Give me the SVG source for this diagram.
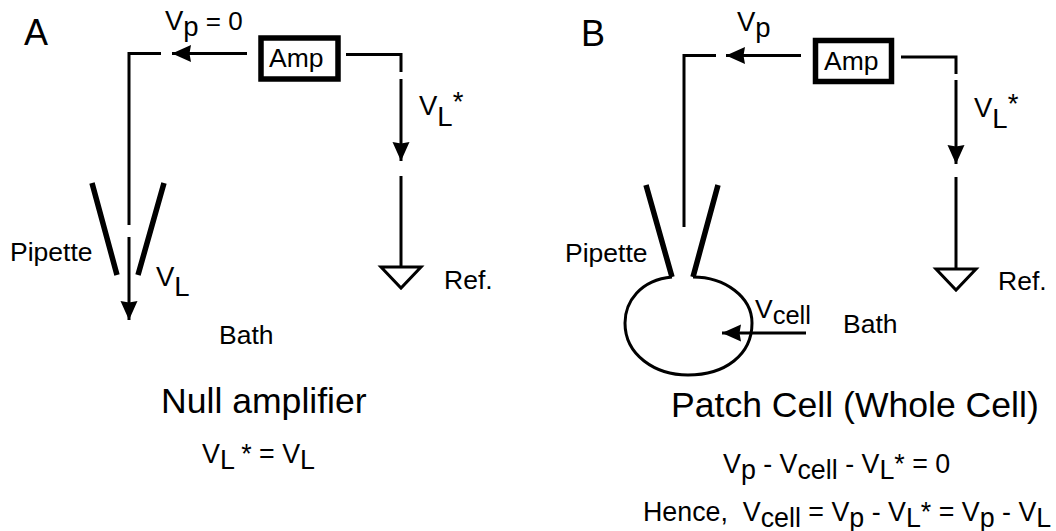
<svg xmlns="http://www.w3.org/2000/svg" width="1056" height="531" viewBox="0 0 1056 531">
<defs>
<marker id="ah" markerUnits="userSpaceOnUse" markerWidth="20" markerHeight="18" refX="19" refY="9" orient="auto"><path d="M0 0.500L19 9L0 17.500L1.500 9Z" fill="#000"/></marker>
</defs>
<style>
text{font-family:"Liberation Sans",Arial,sans-serif;font-size:26.500px;fill:#000}
.t{font-size:35.600px}
.h{font-size:36px}
.f{font-size:26.800px}
.s{font-size:27.500px}
.l{fill:none;stroke:#000;stroke-width:3}
.p{fill:none;stroke:#000;stroke-width:5.500}
.b{fill:#fff;stroke:#000;stroke-width:5.500}
</style>
<rect width="1056" height="531" fill="#fff"/>
<g id="connectors">
<path class="l" d="M161 53.500H129V225"/>
<path class="l" d="M129 237V320" marker-end="url(#ah)"/>
<path class="l" d="M247 53.500H172" marker-end="url(#ah)"/>
<path class="l" d="M346 54.500H401V72"/>
<path class="l" d="M401 79V161" marker-end="url(#ah)"/>
<path class="l" d="M401 176V267"/>
<path class="l" d="M716 55.500H684V227"/>
<path class="l" d="M801 55.500H726" marker-end="url(#ah)"/>
<path class="l" d="M901 57H956V74"/>
<path class="l" d="M956 80V164" marker-end="url(#ah)"/>
<path class="l" d="M956 177V268"/>
<path class="l" d="M806 333H722" marker-end="url(#ah)"/>
</g>
<g id="panel-a-label"><text class="h" x="24" y="45">A</text></g>
<g id="panel-b-label"><text class="h" x="581" y="46">B</text></g>
<g id="amp-a"><rect class="b" x="261" y="38" width="77" height="41"/><text x="269" y="67">Amp</text></g>
<g id="amp-b"><rect class="b" x="815.500" y="40.500" width="76" height="41"/><text x="824" y="70">Amp</text></g>
<g id="pipette-a"><path class="p" d="M92 183L117 275M164 183L138 275"/><text x="10" y="261">Pipette</text></g>
<g id="pipette-b"><path class="p" d="M646 185L672 277M718 185L693 277"/><text x="565" y="262">Pipette</text></g>
<g id="cell"><path class="l" d="M672 277C640 280 625 302 625 323C625 355 655 375 688 375C725 375 752 355 752 323C752 297 725 277 693 277"/></g>
<g id="ground-a"><path class="l" d="M381 267H421L401 288Z"/><text x="444" y="289">Ref.</text></g>
<g id="ground-b"><path class="l" d="M936 269H976L956 290Z"/><text x="998" y="290">Ref.</text></g>
<g id="labels">
<text class="s" x="165" y="30">V<tspan dy="6">p</tspan><tspan dy="-6" style="font-size:26px"> = 0</tspan></text>
<text class="s" x="737" y="31">V<tspan dy="6">p</tspan></text>
<text class="s" x="419" y="115">V<tspan dy="11">L</tspan><tspan dy="-15">*</tspan></text>
<text class="s" x="974" y="117">V<tspan dy="11">L</tspan><tspan dy="-15">*</tspan></text>
<text class="s" x="156" y="286">V<tspan dy="10">L</tspan></text>
<text x="755" y="318">V<tspan dy="6" style="font-size:25.500px">cell</tspan></text>
<text x="219" y="344">Bath</text>
<text x="843" y="333">Bath</text>
<text class="t" x="161" y="413">Null amplifier</text>
<text class="t" x="671" y="417">Patch Cell (Whole Cell)</text>
<text class="f" x="202" y="463">V<tspan dy="6">L</tspan><tspan dy="-6"> * = V</tspan><tspan dy="6">L</tspan></text>
<text class="f" x="723" y="473">V<tspan dy="6">p</tspan><tspan dy="-6"> - V</tspan><tspan dy="6">cell</tspan><tspan dy="-6"> - V</tspan><tspan dy="6">L</tspan><tspan dy="-6">* = 0</tspan></text>
<text class="f" x="643" y="521">Hence,&#160; V<tspan dy="6">cell</tspan><tspan dy="-6"> = V</tspan><tspan dy="6">p</tspan><tspan dy="-6"> - V</tspan><tspan dy="6">L</tspan><tspan dy="-6">* = V</tspan><tspan dy="6">p</tspan><tspan dy="-6"> - V</tspan><tspan dy="6">L</tspan></text>
</g>
</svg>
